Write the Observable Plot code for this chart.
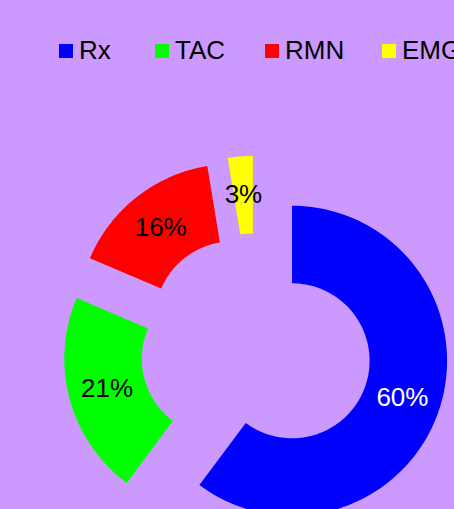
<!DOCTYPE html>
<html><head><meta charset="utf-8">
<script src="https://cdn.jsdelivr.net/npm/d3@7"></script>
<script src="https://cdn.jsdelivr.net/npm/@observablehq/plot@0.6"></script>
<style>
html,body{margin:0;padding:0;background:#CC99FF;width:454px;height:509px;overflow:hidden;font-family:"Liberation Sans",Arial,sans-serif;}
#legend{position:relative;height:98px;white-space:nowrap;overflow:hidden;width:454px;}
.sw{position:absolute;width:14px;height:14px;top:43.5px;}
.lt{position:absolute;font-size:26px;line-height:26px;top:36.5px;color:#000;}
#chart svg{display:block;}
</style></head>
<body><div id="legend"></div><div id="chart"></div>
<script>
const categories = ["Rx", "TAC", "RMN", "EMG"];
const values = [60.2, 21.2, 16.0, 2.6];
const colors = ["#0000FF", "#00FF00", "#FF0000", "#FFFF00"];
const labelColors = ["#FFFFFF", "#000000", "#000000", "#000000"];

// layout
const W = 454, H = 509, legendH = 98;
const cx = 255.5, cy = 348.3;          // page coords of pie centre
const R = 155, r = 77.5, explode = 38;
const legendX = [59, 155, 265, 382];

// legend (HTML)
const leg = document.getElementById("legend");
categories.forEach((c, i) => {
  const s = document.createElement("div");
  s.className = "sw"; s.style.left = legendX[i] + "px"; s.style.background = colors[i];
  leg.appendChild(s);
  const t = document.createElement("div");
  t.className = "lt"; t.style.left = (legendX[i] + 20) + "px"; t.textContent = c;
  leg.appendChild(t);
});

const data = categories.map((c, i) => ({cat: c, value: values[i], labelColor: labelColors[i]}));
const total = d3.sum(values);
const arcs = d3.pie().sort(null).value(d => d.value)(data);

const pts = [];
const labels = [];
const N = 120;
arcs.forEach(a => {
  const mid = (a.startAngle + a.endAngle) / 2;
  const ox = explode * Math.sin(mid), oy = explode * Math.cos(mid);
  for (let k = 0; k <= N; k++) {
    const t = a.startAngle + (a.endAngle - a.startAngle) * k / N;
    pts.push({cat: a.data.cat, x: ox + R * Math.sin(t), y: oy + R * Math.cos(t)});
  }
  for (let k = N; k >= 0; k--) {
    const t = a.startAngle + (a.endAngle - a.startAngle) * k / N;
    pts.push({cat: a.data.cat, x: ox + r * Math.sin(t), y: oy + r * Math.cos(t)});
  }
  const rm = (R + r) / 2;
  labels.push({
    cat: a.data.cat,
    labelColor: a.data.labelColor,
    x: ox + rm * Math.sin(mid),
    y: oy + rm * Math.cos(mid),
    text: Math.round(a.data.value / total * 100) + "%"
  });
});

const svgH = H - legendH;
const chart = Plot.plot({
  width: W, height: svgH, margin: 0,
  style: {background: "transparent", overflow: "visible"},
  x: {domain: [-cx, W - cx], axis: null},
  y: {domain: [cy - H, cy - legendH], axis: null},
  color: {domain: categories, range: colors},
  marks: [
    Plot.line(pts, {x: "x", y: "y", z: "cat", fill: "cat", stroke: "none", curve: "linear-closed"}),
    Plot.text(labels, {x: "x", y: "y", text: "text", filter: d => d.labelColor === "#FFFFFF", fill: "#FFFFFF", fontSize: 26, fontFamily: "Liberation Sans, Arial, sans-serif", textAnchor: "middle", lineAnchor: "middle"}),
    Plot.text(labels, {x: "x", y: "y", text: "text", filter: d => d.labelColor !== "#FFFFFF", fill: "#000000", fontSize: 26, fontFamily: "Liberation Sans, Arial, sans-serif", textAnchor: "middle", lineAnchor: "middle"})
  ]
});
document.getElementById("chart").appendChild(chart);
</script>
</body></html>
